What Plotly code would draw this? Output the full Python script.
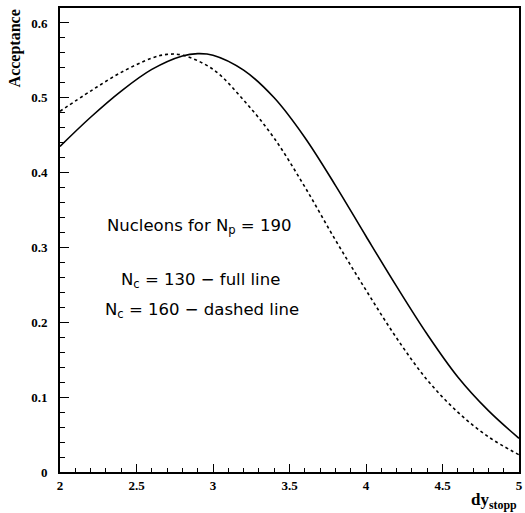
import plotly.graph_objects as go

x_full = [2.0, 2.2, 2.4, 2.6, 2.8, 2.9, 3.0, 3.2, 3.4, 3.6, 3.8, 4.0, 4.2, 4.4, 4.6, 4.8, 5.0]
y_full = [0.435, 0.474, 0.509, 0.538, 0.556, 0.559, 0.557, 0.537, 0.500, 0.447, 0.383, 0.315, 0.248, 0.184, 0.127, 0.082, 0.045]

x_dash = [2.0, 2.2, 2.4, 2.6, 2.7, 2.8, 3.0, 3.2, 3.4, 3.6, 3.8, 4.0, 4.2, 4.4, 4.6, 4.8, 5.0]
y_dash = [0.482, 0.509, 0.534, 0.553, 0.558, 0.557, 0.538, 0.497, 0.446, 0.381, 0.310, 0.243, 0.179, 0.123, 0.080, 0.047, 0.023]

x_ticks = [2, 2.5, 3, 3.5, 4, 4.5, 5]
x_labels = ["<b>2</b>", "<b>2.5</b>", "<b>3</b>", "<b>3.5</b>", "<b>4</b>", "<b>4.5</b>", "<b>5</b>"]
y_ticks = [0, 0.1, 0.2, 0.3, 0.4, 0.5, 0.6]
y_labels = ["<b>0</b>", "<b>0.1</b>", "<b>0.2</b>", "<b>0.3</b>", "<b>0.4</b>", "<b>0.5</b>", "<b>0.6</b>"]

fig = go.Figure()
fig.add_trace(go.Scatter(x=x_full, y=y_full, mode="lines",
                         line=dict(color="black", width=1.6, shape="spline", smoothing=1.0),
                         showlegend=False))
fig.add_trace(go.Scatter(x=x_dash, y=y_dash, mode="lines",
                         line=dict(color="black", width=1.6, shape="spline", smoothing=1.0, dash="3px,3px"),
                         showlegend=False))

tickfont = dict(family="Liberation Serif", size=13, color="black")
fig.update_xaxes(range=[2, 5], tickvals=x_ticks, ticktext=x_labels,
                 ticks="inside", ticklen=8, tickwidth=1, tickcolor="black",
                 minor=dict(dtick=0.1, ticks="inside", ticklen=4, tickwidth=1, tickcolor="black"),
                 showline=True, linecolor="black", linewidth=2, mirror=True,
                 showgrid=False, zeroline=False, tickfont=tickfont)
fig.update_yaxes(range=[0, 0.62], tickvals=y_ticks, ticktext=y_labels,
                 ticks="inside", ticklen=9, tickwidth=1, tickcolor="black",
                 minor=dict(dtick=0.02, ticks="inside", ticklen=5, tickwidth=1, tickcolor="black"),
                 showline=True, linecolor="black", linewidth=2, mirror=True,
                 showgrid=False, zeroline=False, tickfont=tickfont,
                 ticklabelstandoff=8)

def py2paper(py):
    return (472 - py) / 464

def px2paper(px):
    return (px - 60) / 463

txtfont = dict(family="DejaVu Sans", size=16.5, color="black")
annotations = [
    dict(text="Nucleons for N<sub>p</sub> = 190", x=200, y=227),
    dict(text="N<sub>c</sub> = 130 − full line", x=202, y=280),
    dict(text="N<sub>c</sub> = 160 − dashed line", x=203, y=310),
]
ann = []
for a in annotations:
    ann.append(dict(text=a["text"], xref="paper", yref="paper",
                    x=px2paper(a["x"]), y=py2paper(a["y"]),
                    showarrow=False, xanchor="center", yanchor="middle",
                    font=txtfont))
ann.append(dict(text="<b>Acceptance</b>", xref="paper", yref="paper",
                x=px2paper(15), y=py2paper(48), textangle=-90,
                showarrow=False, xanchor="center", yanchor="middle",
                font=dict(family="Liberation Serif", size=16, color="black")))
ann.append(dict(text="<b>dy<sub>stopp</sub></b>", xref="paper", yref="paper",
                x=1.0, y=py2paper(501),
                showarrow=False, xanchor="right", yanchor="middle",
                font=dict(family="Liberation Serif", size=17, color="black")))

fig.update_layout(width=525, height=513,
                  margin=dict(l=60, r=2, t=8, b=41),
                  paper_bgcolor="white", plot_bgcolor="white",
                  annotations=ann)
fig.write_html("out.html")
